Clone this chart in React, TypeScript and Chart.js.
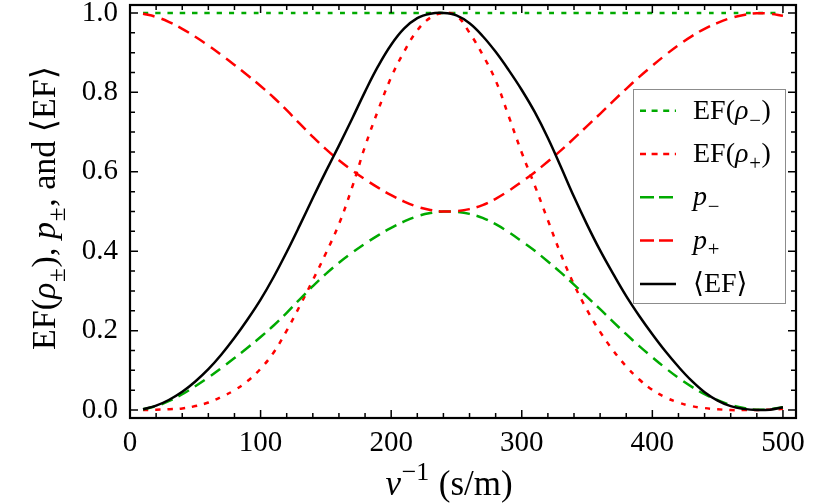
import React, { useEffect, useRef } from "react";
import { Chart, registerables } from "chart.js";

Chart.register(...registerables);

// ---------- data ----------
const xValues = [
  10, 20, 30, 40, 50, 60, 70, 80, 90, 100,
  110, 120, 130, 140, 150, 160, 170, 180, 190, 200,
  210, 220, 230, 240, 250, 260, 270, 280, 290, 300,
  310, 320, 330, 340, 350, 360, 370, 380, 390, 400,
  410, 420, 430, 440, 450, 460, 470, 480, 490, 500,
];

const efMinus = [
  1, 1, 1, 1, 1, 1, 1, 1, 1, 1,
  1, 1, 1, 1, 1, 1, 1, 1, 1, 1,
  1, 1, 1, 1, 1, 1, 1, 1, 1, 1,
  1, 1, 1, 1, 1, 1, 1, 1, 1, 1,
  1, 1, 1, 1, 1, 1, 1, 1, 1, 1,
];

const efPlus = [
  0.0, 0.001, 0.002, 0.004, 0.01, 0.019, 0.033, 0.05, 0.073, 0.104,
  0.145, 0.2, 0.262, 0.327, 0.395, 0.468, 0.56, 0.664, 0.755, 0.838,
  0.903, 0.956, 0.988, 1.0, 0.993, 0.95, 0.895, 0.83, 0.74, 0.648,
  0.565, 0.478, 0.392, 0.316, 0.252, 0.197, 0.15, 0.11, 0.077, 0.051,
  0.032, 0.019, 0.01, 0.005, 0.002, 0.0, 0.0, 0.0, 0.001, 0.003,
];

const pMinus = [
  0.002, 0.01, 0.023, 0.04, 0.06, 0.082, 0.106, 0.131, 0.157, 0.184,
  0.213, 0.245, 0.279, 0.312, 0.343, 0.371, 0.396, 0.419, 0.44, 0.459,
  0.475, 0.488, 0.496, 0.5, 0.499, 0.494, 0.484, 0.468, 0.448, 0.425,
  0.401, 0.374, 0.346, 0.316, 0.285, 0.254, 0.222, 0.191, 0.161, 0.133,
  0.106, 0.081, 0.059, 0.04, 0.025, 0.013, 0.005, 0.001, 0.002, 0.007,
];

const pPlus = [
  0.998, 0.99, 0.977, 0.96, 0.94, 0.918, 0.894, 0.869, 0.843, 0.816,
  0.787, 0.755, 0.721, 0.688, 0.657, 0.629, 0.604, 0.581, 0.56, 0.541,
  0.525, 0.512, 0.504, 0.5, 0.501, 0.506, 0.516, 0.532, 0.552, 0.575,
  0.599, 0.626, 0.654, 0.684, 0.715, 0.746, 0.778, 0.809, 0.839, 0.867,
  0.894, 0.919, 0.941, 0.96, 0.975, 0.987, 0.995, 0.999, 0.998, 0.993,
];

const avgEF = [
  0.002, 0.011, 0.026, 0.046, 0.072, 0.103, 0.14, 0.182, 0.228, 0.278,
  0.335, 0.398, 0.465, 0.534, 0.601, 0.666, 0.733, 0.802, 0.866, 0.92,
  0.961, 0.987, 0.998, 1.0, 0.994, 0.974, 0.942, 0.902, 0.856, 0.806,
  0.75, 0.685, 0.612, 0.537, 0.467, 0.402, 0.343, 0.287, 0.237, 0.191,
  0.148, 0.109, 0.074, 0.045, 0.024, 0.01, 0.003, 0.0, 0.001, 0.007,
];

const xTickValues = [0, 100, 200, 300, 400, 500];
const xTickLabels = ["0", "100", "200", "300", "400", "500"];
const yTickValues = [0, 0.2, 0.4, 0.6, 0.8, 1.0];
const yTickLabels = ["0.0", "0.2", "0.4", "0.6", "0.8", "1.0"];

// ---------- styling ----------
const FAMILY = '"Liberation Serif", "DejaVu Serif", serif';
const GREEN = "#00aa00";
const RED = "#ff0000";
const DOTTED = [5, 7.3];
const DASHED = [12, 7];

type Seg = { t: string; it?: boolean; sub?: boolean; sup?: boolean };

const legendItems: { segs: Seg[]; color: string; dash: number[] }[] = [
  { segs: [{ t: "EF(" }, { t: "ρ", it: true }, { t: "−", sub: true }, { t: ")" }], color: GREEN, dash: [6, 5.6] },
  { segs: [{ t: "EF(" }, { t: "ρ", it: true }, { t: "+", sub: true }, { t: ")" }], color: RED, dash: [6, 5.6] },
  { segs: [{ t: "p", it: true }, { t: "−", sub: true }], color: GREEN, dash: [14, 5] },
  { segs: [{ t: "p", it: true }, { t: "+", sub: true }], color: RED, dash: [14, 5] },
  { segs: [{ t: "⟨EF⟩" }], color: "#000", dash: [] },
];

const yTitle: Seg[] = [
  { t: "EF(" }, { t: "ρ", it: true }, { t: "±", sub: true }, { t: "), " },
  { t: "p", it: true }, { t: "±", sub: true }, { t: ", and ⟨EF⟩" },
];
const xTitle: Seg[] = [{ t: "v", it: true }, { t: "−1", sup: true }, { t: " (s/m)" }];

function segFont(s: Seg, size: number) {
  const sz = s.sub || s.sup ? size * 0.74 : size;
  return `${s.it ? "italic " : ""}${sz}px ${FAMILY}`;
}
function richWidth(ctx: CanvasRenderingContext2D, segs: Seg[], size: number) {
  let w = 0;
  for (const s of segs) {
    ctx.font = segFont(s, size);
    w += ctx.measureText(s.t).width + (s.sub || s.sup ? 1.5 : 0);
  }
  return w;
}
function drawRich(ctx: CanvasRenderingContext2D, segs: Seg[], x: number, y: number, size: number, center: boolean) {
  let cx = center ? x - richWidth(ctx, segs, size) / 2 : x;
  ctx.textBaseline = "alphabetic";
  ctx.textAlign = "left";
  for (const s of segs) {
    ctx.font = segFont(s, size);
    const dy = s.sub ? size * 0.28 : s.sup ? -size * 0.42 : 0;
    const pad = s.sub || s.sup ? 1.5 : 0;
    ctx.fillText(s.t, cx + pad / 2, y + dy);
    cx += ctx.measureText(s.t).width + pad;
  }
}

const decorPlugin = {
  id: "decor",
  afterDraw(chart: any) {
    const { ctx, chartArea: a, scales } = chart;
    const xs = scales.x;
    const ys = scales.y;
    ctx.save();
    ctx.strokeStyle = "#000";
    ctx.setLineDash([]);
    // x ticks (major every 100, minor every 20), top & bottom, inward
    ctx.lineWidth = 1.5;
    for (let v = 0; v <= 510; v += 20) {
      const px = xs.getPixelForValue(v);
      const len = v % 100 === 0 ? 8 : 5;
      ctx.beginPath();
      ctx.moveTo(px, a.bottom);
      ctx.lineTo(px, a.bottom - len);
      ctx.moveTo(px, a.top);
      ctx.lineTo(px, a.top + len);
      ctx.stroke();
    }
    // y ticks (major every 0.2, minor every 0.05), left & right
    for (let i = 0; i <= 20; i++) {
      const py = ys.getPixelForValue(i * 0.05);
      const len = i % 4 === 0 ? 8 : 5;
      ctx.beginPath();
      ctx.moveTo(a.left, py);
      ctx.lineTo(a.left + len, py);
      ctx.moveTo(a.right, py);
      ctx.lineTo(a.right - len, py);
      ctx.stroke();
    }
    // frame
    ctx.lineWidth = 2.2;
    ctx.strokeRect(a.left, a.top, a.right - a.left, a.bottom - a.top);

    // legend
    const lx = 633.5, ly = 89.5, lw = 152, lh = 214;
    ctx.fillStyle = "#fff";
    ctx.fillRect(lx, ly, lw, lh);
    ctx.strokeStyle = "#8c8c8c";
    ctx.lineWidth = 1;
    ctx.strokeRect(lx, ly, lw, lh);
    legendItems.forEach((it, i) => {
      const cy = ly + 21.2 + i * 43.3;
      ctx.strokeStyle = it.color;
      ctx.lineWidth = 2.5;
      ctx.lineCap = "butt";
      ctx.setLineDash(it.dash);
      ctx.beginPath();
      ctx.moveTo(640, cy);
      ctx.lineTo(676, cy);
      ctx.stroke();
      ctx.setLineDash([]);
      ctx.fillStyle = "#000";
      drawRich(ctx, it.segs, 693, cy + 8, 28, false);
    });

    // axis titles
    ctx.fillStyle = "#000";
    drawRich(ctx, xTitle, 449, 495, 35, true);
    ctx.translate(55, 208);
    ctx.rotate(-Math.PI / 2);
    drawRich(ctx, yTitle, 0, 0, 34, true);
    ctx.restore();
  },
};

export default function App() {
  const ref = useRef<HTMLCanvasElement | null>(null);
  useEffect(() => {
    if (!ref.current) return;
    const pts = (ys: number[]) => xValues.map((x, i) => ({ x, y: ys[i] }));
    const common = { pointRadius: 0, borderWidth: 2.5, fill: false, tension: 0.4, borderCapStyle: "butt" as const };
    const chart = new Chart(ref.current, {
      type: "line",
      data: {
        datasets: [
          { ...common, label: "EF(ρ−)", data: pts(efMinus), borderColor: GREEN, borderDash: DOTTED, order: 5 },
          { ...common, label: "EF(ρ+)", data: pts(efPlus), borderColor: RED, borderDash: DOTTED, order: 4 },
          { ...common, label: "p−", data: pts(pMinus), borderColor: GREEN, borderDash: DASHED, order: 3 },
          { ...common, label: "p+", data: pts(pPlus), borderColor: RED, borderDash: DASHED, order: 2 },
          { ...common, label: "⟨EF⟩", data: pts(avgEF), borderColor: "#000", order: 1 },
        ],
      },
      options: {
        animation: false,
        responsive: false,
        events: [],
        layout: { padding: { left: 0, top: 5, right: 34, bottom: 0 } },
        plugins: { legend: { display: false }, tooltip: { enabled: false } },
        scales: {
          x: {
            type: "linear",
            min: 0,
            max: 510,
            grid: { display: false, drawTicks: false },
            border: { display: false },
            afterBuildTicks: (s: any) => { s.ticks = xTickValues.map((v) => ({ value: v })); },
            ticks: {
              autoSkip: false,
              maxRotation: 0,
              padding: 8,
              color: "#000",
              font: { family: FAMILY, size: 29 },
              callback: (v: any) => {
                const idx = xTickValues.indexOf(Math.round(Number(v)));
                return idx >= 0 ? xTickLabels[idx] : "";
              },
            },
            afterFit: (s: any) => {
              s.height = 86;
              s.paddingLeft = 0;
              s.paddingRight = 0;
            },
          },
          y: {
            type: "linear",
            min: -0.02,
            max: 1.02,
            grid: { display: false, drawTicks: false },
            border: { display: false },
            afterBuildTicks: (s: any) => { s.ticks = yTickValues.map((v) => ({ value: v })); },
            ticks: {
              autoSkip: false,
              padding: 12,
              color: "#000",
              font: { family: FAMILY, size: 29 },
              callback: (v: any) => {
                const idx = Math.round(Number(v) / 0.2);
                return yTickLabels[idx] ?? "";
              },
            },
            afterFit: (s: any) => {
              s.width = 130;
              s.paddingTop = 0;
              s.paddingBottom = 0;
            },
          },
        },
      },
      plugins: [decorPlugin],
    });
    return () => chart.destroy();
  }, []);
  return (
    <div style={{ position: "fixed", left: 0, top: 0, width: 830, height: 504, background: "#fff" }}>
      <canvas ref={ref} width={830} height={504} style={{ display: "block" }} />
    </div>
  );
}
